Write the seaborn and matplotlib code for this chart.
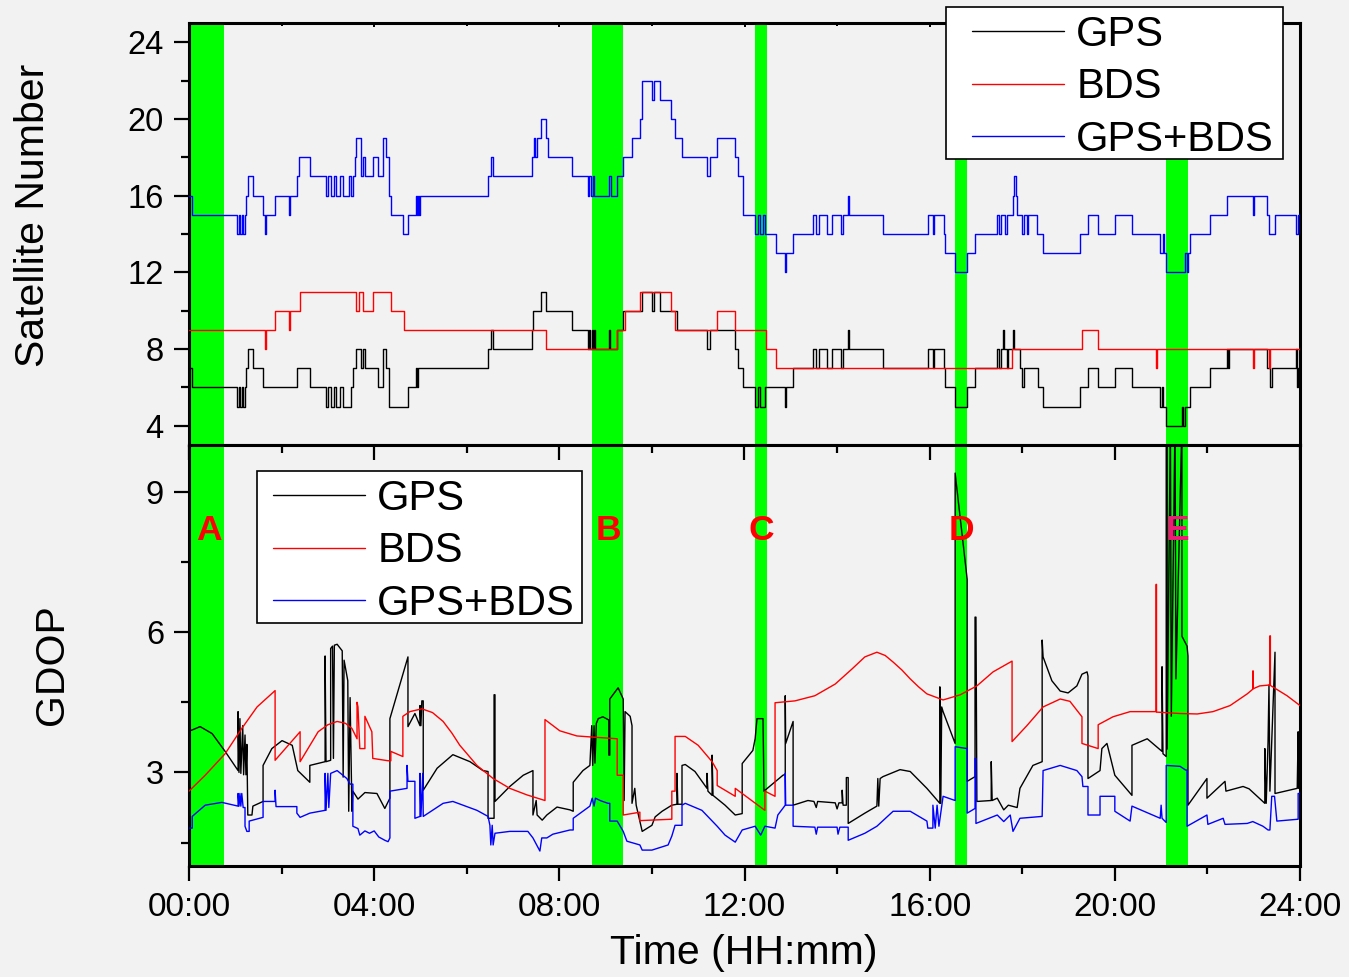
import matplotlib
matplotlib.use("Agg")
import matplotlib.pyplot as plt
from matplotlib.patches import Rectangle
from matplotlib.ticker import MultipleLocator, FuncFormatter
import pandas as pd
import seaborn as sns

# ---------------- satellite counts (hour of change, count) ----------------
gps_sat_t = [0.00, 0.07, 1.04, 1.08, 1.10, 1.14, 1.17, 1.21, 1.23, 1.27, 1.38, 1.60, 2.33, 2.61, 2.96, 3.00,
             3.06, 3.13, 3.17, 3.26, 3.33, 3.50, 3.54, 3.61, 3.71, 3.76, 3.80, 4.08, 4.19, 4.26, 4.32, 4.73,
             4.90, 4.92, 4.95, 6.46, 6.52, 6.57, 7.41, 7.43, 7.60, 7.71, 8.27, 8.62, 8.64, 8.66, 8.70, 8.72,
             8.75, 8.77, 9.07, 9.10, 9.25, 9.38, 9.79, 10.00, 10.05, 10.17, 10.54, 11.19, 11.25, 11.80, 11.86,
             11.97, 12.23, 12.30, 12.33, 12.45, 12.88, 12.90, 13.05, 13.48, 13.54, 13.60, 13.78, 13.90, 14.08,
             14.13, 14.24, 14.26, 14.99, 15.96, 16.08, 16.10, 16.30, 16.33, 16.55, 16.81, 16.98, 17.46, 17.50,
             17.55, 17.58, 17.60, 17.66, 17.70, 17.80, 17.83, 17.95, 18.00, 18.03, 18.34, 18.45, 19.25, 19.42,
             19.64, 20.00, 20.37, 20.98, 21.02, 21.04, 21.11, 21.45, 21.48, 21.52, 21.62, 22.06, 22.42, 22.45,
             22.47, 23.28, 23.36, 23.40, 23.92, 23.94, 23.96, 24.00]
gps_sat_n = [7, 6, 5, 6, 5, 6, 5, 6, 7, 8, 7, 6, 7, 6, 5, 6,
             5, 6, 5, 6, 5, 6, 7, 8, 7, 8, 7, 6, 8, 7, 5, 6,
             7, 6, 7, 8, 9, 8, 9, 10, 11, 10, 9, 8, 9, 8, 9, 8,
             9, 8, 9, 8, 9, 10, 11, 10, 11, 10, 9, 8, 9, 8, 7,
             6, 5, 6, 5, 6, 5, 6, 7, 8, 7, 8, 7, 8, 7,
             8, 9, 8, 7, 8, 7, 8, 7, 6, 5, 6, 7, 8, 7,
             8, 9, 8, 7, 8, 9, 8, 7, 6, 7, 6, 5, 6, 7,
             6, 7, 6, 5, 6, 5, 4, 5, 4, 5, 6, 7, 8, 7,
             8, 7, 6, 7, 8, 6, 7, 7]

bds_sat_t = [0.00, 1.64, 1.66, 1.86, 2.16, 2.18, 2.40, 3.61, 3.67, 3.76, 3.97, 4.36, 4.64, 7.71, 9.25, 9.42,
             9.74, 10.41, 10.50, 11.41, 11.80, 12.46, 12.68, 17.78, 19.29, 19.64, 20.89, 20.91, 22.98, 23.00,
             23.33, 23.35, 24.00]
bds_sat_n = [9, 8, 9, 10, 9, 10, 11, 10, 11, 10, 11, 10, 9, 8, 9, 10,
             11, 10, 9, 10, 9, 8, 7, 8, 9, 8, 7, 8, 7, 8,
             7, 8, 8]

all_sat_t = [0.00, 0.07, 1.04, 1.08, 1.10, 1.14, 1.17, 1.21, 1.23, 1.27, 1.38, 1.60, 1.64, 1.66, 1.86, 2.16,
             2.18, 2.33, 2.37, 2.61, 2.96, 3.00, 3.06, 3.13, 3.17, 3.26, 3.33, 3.45, 3.50, 3.54, 3.58, 3.61,
             3.71, 3.76, 3.80, 3.97, 4.08, 4.19, 4.26, 4.32, 4.36, 4.62, 4.73, 4.90, 4.92, 4.95, 4.97, 5.00,
             6.46, 6.52, 6.57, 7.41, 7.45, 7.47, 7.52, 7.60, 7.71, 7.76, 8.27, 8.62, 8.65, 8.68, 8.72, 8.75,
             9.07, 9.11, 9.25, 9.38, 9.57, 9.74, 9.79, 10.00, 10.05, 10.17, 10.41, 10.50, 10.65, 11.19, 11.25,
             11.41, 11.80, 11.86, 11.97, 12.23, 12.30, 12.33, 12.40, 12.45, 12.68, 12.88, 12.90, 13.05, 13.48,
             13.54, 13.60, 13.78, 13.90, 14.08, 14.13, 14.24, 14.26, 14.99, 15.96, 16.08, 16.10, 16.30, 16.33,
             16.55, 16.81, 16.98, 17.46, 17.50, 17.55, 17.62, 17.66, 17.80, 17.83, 17.86, 17.89, 17.95, 18.00,
             18.03, 18.10, 18.13, 18.32, 18.45, 19.25, 19.42, 19.64, 20.00, 20.37, 20.98, 21.04, 21.06, 21.11,
             21.52, 21.55, 21.58, 21.62, 22.06, 22.42, 22.98, 23.00, 23.28, 23.33, 23.45, 23.92, 23.96, 24.00]
all_sat_n = [16, 15, 14, 15, 14, 15, 14, 15, 16, 17, 16, 15, 14, 15, 16, 15,
             16, 17, 18, 17, 16, 17, 16, 17, 16, 17, 16, 17, 16, 17, 18, 19,
             17, 18, 17, 18, 17, 19, 18, 16, 15, 14, 15, 16, 15, 16, 15, 16,
             17, 18, 17, 18, 19, 18, 19, 20, 19, 18, 17, 16, 17, 16, 17, 16,
             17, 16, 17, 18, 19, 20, 22, 21, 22, 21, 20, 19, 18, 17, 18,
             19, 18, 17, 15, 14, 15, 14, 15, 14, 13, 12, 13, 14, 15,
             14, 15, 14, 15, 14, 15, 16, 15, 14, 15, 14, 15, 14, 13,
             12, 13, 14, 15, 14, 15, 14, 15, 16, 17, 16, 15, 15, 14,
             15, 14, 15, 14, 13, 14, 15, 14, 15, 14, 13, 14, 13, 12,
             13, 12, 13, 14, 15, 16, 15, 16, 15, 14, 15, 14, 15, 15]

# ---------------- GDOP (hour, value) ----------------
gps_gdop_t = [0.05, 0.24, 0.50, 0.78, 1.06, 1.06, 1.08, 1.10, 1.12, 1.16, 1.18, 1.21, 1.23, 1.25, 1.27, 1.36,
              1.38, 1.60, 1.60, 1.79, 2.01, 2.23, 2.35, 2.61, 2.61, 2.94, 2.94, 2.96, 3.06, 3.06, 3.10, 3.12,
              3.14, 3.20, 3.31, 3.33, 3.35, 3.43, 3.45, 3.48, 3.52, 3.54, 3.65, 3.80, 4.06, 4.23, 4.34, 4.34,
              4.73, 4.73, 4.88, 4.99, 4.99, 5.01, 5.03, 5.06, 5.06, 5.36, 5.70, 6.07, 6.35, 6.46, 6.46, 6.59,
              6.59, 6.61, 6.61, 6.93, 7.22, 7.43, 7.43, 7.50, 7.52, 7.63, 7.73, 7.95, 8.23, 8.30, 8.30, 8.51,
              8.66, 8.70, 8.72, 8.75, 8.77, 8.80, 8.84, 8.94, 9.07, 9.07, 9.09, 9.09, 9.27, 9.38, 9.40, 9.42,
              9.53, 9.57, 9.57, 9.63, 9.66, 9.79, 10.00, 10.07, 10.22, 10.43, 10.54, 10.54, 10.56, 10.65,
              10.65, 10.72, 10.93, 11.19, 11.19, 11.21, 11.30, 11.30, 11.32, 11.58, 11.80, 11.95, 11.95, 12.18,
              12.23, 12.27, 12.40, 12.42, 12.83, 12.88, 12.88, 12.89, 13.05, 13.05, 13.37, 13.50, 13.55, 13.58,
              13.96, 14.00, 14.04, 14.11, 14.11, 14.13, 14.20, 14.20, 14.24, 14.24, 14.60, 14.86, 14.88, 14.90,
              14.93, 14.99, 15.36, 15.58, 15.94, 16.22, 16.22, 16.24, 16.26, 16.29, 16.55, 16.55, 16.81, 16.81,
              16.98, 16.98, 17.00, 17.02, 17.33, 17.33, 17.35, 17.46, 17.60, 17.70, 17.89, 17.95, 18.23, 18.43,
              18.43, 18.45, 18.64, 18.82, 18.99, 19.18, 19.29, 19.40, 19.42, 19.42, 19.68, 19.72, 19.83, 20.00,
              20.37, 20.37, 20.70, 21.02, 21.02, 21.04, 21.11, 21.11, 21.13, 21.13, 21.20, 21.22, 21.30, 21.32,
              21.45, 21.45, 21.56, 21.58, 21.58, 21.99, 21.99, 22.38, 22.40, 22.77, 22.90, 23.24, 23.24, 23.27,
              23.31, 23.33, 23.35, 23.46, 23.46, 23.94, 23.96, 23.97, 24.00]
gps_gdop_v = [3.90, 3.98, 3.83, 3.45, 3.04, 4.30, 3.00, 4.15, 2.98, 4.00, 2.95, 3.80, 2.95, 3.60, 2.09, 2.09,
              2.28, 2.38, 3.15, 3.51, 3.68, 3.58, 3.04, 2.79, 3.15, 3.23, 5.49, 3.23, 3.26, 5.65, 5.70, 3.30,
              5.72, 5.74, 5.60, 2.90, 5.40, 4.96, 2.17, 4.60, 2.17, 2.60, 2.43, 2.57, 2.55, 2.23, 2.45, 4.15,
              5.47, 3.98, 4.26, 4.00, 4.43, 4.00, 4.53, 4.53, 2.62, 3.09, 3.38, 3.23, 3.04, 3.02, 2.02, 2.02,
              4.66, 4.66, 2.38, 2.70, 2.94, 3.04, 2.09, 2.40, 2.09, 1.98, 2.09, 2.26, 2.20, 2.17, 2.79, 3.04,
              3.15, 4.00, 3.15, 4.00, 3.20, 4.05, 4.15, 4.19, 4.12, 3.37, 3.37, 4.57, 4.81, 4.57, 2.40, 4.30,
              4.20, 4.00, 2.34, 2.66, 2.30, 1.74, 1.87, 2.05, 2.17, 2.30, 2.32, 2.98, 2.32, 2.32,
              3.15, 3.17, 3.02, 2.66, 2.98, 2.60, 2.51, 3.37, 2.51, 2.30, 2.09, 2.12, 3.19, 3.47,
              3.72, 4.15, 4.15, 2.60, 2.94, 2.96, 4.64, 3.62, 4.09, 2.30, 2.40, 2.38, 2.25, 2.38,
              2.35, 2.22, 2.35, 2.35, 2.62, 2.30, 2.30, 2.89, 2.89, 1.91, 2.13, 2.28, 2.87, 2.28,
              2.87, 2.91, 3.06, 3.02, 2.66, 2.34, 4.83, 2.34, 4.40, 4.30, 3.62, 9.40, 7.13, 2.81,
              2.91, 6.32, 6.32, 2.38, 2.40, 3.23, 2.40, 2.45, 2.20, 2.30, 2.25, 2.66, 3.15, 3.23,
              5.83, 5.47, 4.96, 4.74, 4.70, 4.85, 5.10, 5.15, 5.06, 2.87, 3.04, 3.51, 3.62, 2.94,
              2.51, 3.58, 3.72, 3.45, 5.26, 3.40, 3.34, 10.50, 10.50, 3.50, 10.50, 4.20, 10.50, 5.00,
              10.50, 5.91, 5.70, 5.49, 2.30, 2.87, 2.45, 2.81, 2.60, 2.70, 2.65, 2.34, 3.51, 2.34,
              3.66, 4.87, 2.60, 5.57, 2.55, 2.66, 3.87, 2.66, 2.66]

bds_gdop_t = [0.00, 0.35, 0.78, 1.14, 1.47, 1.86, 1.86, 2.40, 2.40, 2.79, 3.00, 3.20, 3.38, 3.52, 3.63, 3.63,
              3.65, 3.69, 3.80, 3.80, 3.95, 3.97, 4.30, 4.36, 4.36, 4.62, 4.62, 4.77, 5.03, 5.26, 5.49, 5.68,
              5.85, 6.04, 6.22, 6.57, 6.93, 7.30, 7.69, 7.69, 8.01, 8.38, 8.66, 9.25, 9.25, 9.38, 9.38, 9.74,
              9.74, 10.43, 10.43, 10.50, 10.50, 10.72, 11.00, 11.30, 11.41, 11.41, 11.80, 11.80, 12.44, 12.44,
              12.66, 12.66, 13.09, 13.52, 13.96, 14.32, 14.60, 14.86, 15.04, 15.21, 15.40, 15.58, 15.76, 15.94,
              16.29, 16.66, 17.02, 17.37, 17.78, 17.78, 18.10, 18.45, 18.82, 19.03, 19.29, 19.29, 19.64, 19.64,
              19.96, 20.33, 20.89, 20.89, 20.90, 20.90, 21.41, 21.78, 22.12, 22.49, 22.86, 22.98, 22.98, 22.99,
              22.99, 23.13, 23.35, 23.35, 23.36, 23.36, 23.72, 24.00]
bds_gdop_v = [2.60, 2.94, 3.40, 3.94, 4.40, 4.75, 3.26, 3.87, 3.23, 3.87, 4.02, 4.09, 4.05, 3.94, 3.72, 4.50,
              4.40, 3.51, 3.51, 4.20, 3.87, 3.30, 3.25, 3.25, 3.45, 3.34, 4.20, 4.30, 4.36, 4.28, 4.09, 3.84,
              3.58, 3.36, 3.15, 2.87, 2.66, 2.52, 2.40, 4.13, 3.89, 3.78, 3.76, 3.72, 2.94, 2.94, 2.09, 2.15,
              1.97, 2.00, 2.60, 2.60, 3.77, 3.77, 3.58, 3.23, 3.04, 2.72, 2.49, 2.66, 2.19, 2.60,
              2.49, 4.49, 4.53, 4.64, 4.89, 5.21, 5.47, 5.57, 5.50, 5.36, 5.19, 5.00, 4.83, 4.68,
              4.55, 4.66, 4.85, 5.15, 5.38, 3.66, 4.00, 4.40, 4.57, 4.52, 4.19, 3.62, 3.51, 4.02,
              4.19, 4.30, 4.30, 7.02, 7.02, 4.29, 4.26, 4.25, 4.30, 4.43, 4.68, 4.78, 5.17, 5.17,
              4.79, 4.85, 4.87, 5.92, 5.92, 4.86, 4.64, 4.43]

all_gdop_t = [0.00, 0.07, 0.07, 0.35, 0.71, 1.06, 1.06, 1.08, 1.10, 1.12, 1.14, 1.17, 1.21, 1.21, 1.25, 1.30,
              1.30, 1.60, 1.60, 1.86, 1.86, 1.88, 2.33, 2.33, 2.40, 2.61, 2.94, 2.94, 2.96, 3.00, 3.02, 3.06,
              3.20, 3.41, 3.48, 3.54, 3.54, 3.65, 3.69, 3.80, 3.90, 4.00, 4.10, 4.23, 4.30, 4.34, 4.34, 4.71,
              4.71, 4.73, 4.88, 4.88, 4.99, 4.99, 5.01, 5.05, 5.06, 5.49, 5.70, 6.22, 6.46, 6.50, 6.52, 6.55,
              6.57, 6.61, 6.93, 7.32, 7.43, 7.58, 7.62, 7.73, 7.86, 8.23, 8.30, 8.30, 8.66, 8.71, 8.75, 8.78,
              8.88, 9.05, 9.09, 9.09, 9.25, 9.38, 9.46, 9.74, 9.79, 10.00, 10.35, 10.43, 10.50, 10.65, 10.65,
              10.72, 11.08, 11.41, 11.58, 11.80, 11.95, 12.23, 12.35, 12.44, 12.66, 12.72, 12.88, 12.88, 12.89,
              13.05, 13.05, 13.52, 13.55, 13.58, 14.00, 14.02, 14.06, 14.24, 14.24, 14.60, 14.86, 15.21, 15.58,
              15.94, 15.96, 16.07, 16.07, 16.12, 16.16, 16.20, 16.29, 16.55, 16.55, 16.81, 16.81, 16.98, 16.98,
              17.00, 17.00, 17.46, 17.60, 17.74, 17.80, 17.95, 18.43, 18.45, 18.82, 19.18, 19.29, 19.31, 19.42,
              19.42, 19.68, 19.68, 20.00, 20.00, 20.33, 20.37, 20.98, 21.00, 21.02, 21.11, 21.11, 21.41, 21.53,
              21.56, 21.56, 21.99, 22.01, 22.34, 22.38, 22.86, 22.98, 23.20, 23.31, 23.35, 23.39, 23.45, 23.50,
              23.96, 23.96, 24.00]
all_gdop_v = [1.81, 1.81, 2.06, 2.30, 2.36, 2.28, 2.55, 2.28, 2.55, 2.28, 2.55, 2.25, 2.25, 1.85, 1.74, 1.74,
              1.96, 2.04, 2.38, 2.38, 2.62, 2.27, 2.27, 2.13, 2.04, 2.13, 2.19, 2.98, 2.19, 2.98, 2.25, 2.98,
              3.04, 2.87, 2.75, 2.75, 1.85, 1.80, 1.66, 1.75, 1.70, 1.75, 1.62, 1.55, 1.52, 1.60, 2.60, 2.66,
              3.15, 2.81, 2.81, 2.02, 2.06, 2.98, 2.06, 2.98, 2.06, 2.34, 2.38, 2.19, 2.06, 1.87, 1.45, 1.87,
              1.45, 1.70, 1.74, 1.74, 1.60, 1.32, 1.60, 1.60, 1.68, 1.77, 1.77, 2.02, 2.28, 2.45, 2.28, 2.45,
              2.40, 2.34, 2.34, 1.96, 1.96, 1.74, 1.53, 1.45, 1.34, 1.34, 1.45, 1.64, 1.87, 1.87, 2.30,
              2.34, 2.19, 1.85, 1.66, 1.51, 1.77, 1.85, 1.66, 1.85, 1.81, 2.09, 2.30, 2.98, 2.30,
              2.30, 1.85, 1.83, 1.68, 1.83, 1.83, 1.68, 1.83, 1.83, 1.55, 1.70, 1.85, 2.17, 2.17,
              1.96, 1.81, 1.81, 2.30, 1.81, 2.30, 1.85, 2.49, 2.40, 3.55, 3.51, 2.13, 2.23, 3.30,
              3.30, 1.91, 2.09, 1.95, 2.09, 1.74, 2.02, 2.06, 3.04, 3.15, 3.04, 2.91, 2.70, 2.70,
              2.09, 2.09, 2.49, 2.49, 2.17, 1.96, 2.28, 2.02, 2.30, 2.02, 1.93, 3.15, 3.13, 3.05,
              3.05, 1.85, 2.09, 1.89, 2.02, 1.89, 1.91, 1.95, 1.85, 1.77, 1.77, 2.49, 2.49, 1.96,
              2.00, 2.55, 2.55]

# ---------------- event windows with poor geometry ----------------
event_names = ["A", "B", "C", "D", "E"]
event_start = [0.04, 8.70, 12.22, 16.54, 21.10]
event_end = [0.76, 9.37, 12.48, 16.80, 21.58]
event_colors = ["#ff0000", "#ff0000", "#ff0000", "#ff0000", "#ee1a78"]

series_names = ["GPS", "BDS", "GPS+BDS"]
series_colors = ["#000000", "#ff0000", "#0000ff"]

# ---------------- style ----------------
sns.set_theme(style="ticks")
bg = "#f2f2f2"
plt.rcParams.update({
    "font.family": ["Liberation Sans", "DejaVu Sans"],
    "axes.linewidth": 2.2,
    "axes.edgecolor": "black",
    "text.color": "black",
    "axes.labelcolor": "black",
    "xtick.color": "black",
    "ytick.color": "black",
    "xtick.labelcolor": "black",
    "ytick.labelcolor": "black",
})

W, H = 1349, 977
fig = plt.figure(figsize=(W / 100, H / 100), dpi=100, facecolor=bg)
left, width = 189 / W, (1300 - 189) / W
ax1 = fig.add_axes([left, 1 - 445 / H, width, (445 - 23) / H])
ax2 = fig.add_axes([left, 1 - 866 / H, width, (866 - 445) / H])

for ax in (ax1, ax2):
    ax.set_facecolor(bg)
    for s0, s1 in zip(event_start, event_end):
        ax.axvspan(s0, s1, color="#00ff00", lw=0, zorder=0)

# satellite numbers (step lines)
sat_frames = [
    pd.DataFrame({"t": gps_sat_t, "n": gps_sat_n}),
    pd.DataFrame({"t": bds_sat_t, "n": bds_sat_n}),
    pd.DataFrame({"t": all_sat_t, "n": all_sat_n}),
]
for df, name, col in zip(sat_frames, series_names, series_colors):
    sns.lineplot(data=df, x="t", y="n", ax=ax1, color=col, lw=1.0, estimator=None,
                 sort=False, drawstyle="steps-post", label=name, zorder=3)

# GDOP curves
gdop_frames = [
    pd.DataFrame({"t": gps_gdop_t, "g": gps_gdop_v}),
    pd.DataFrame({"t": bds_gdop_t, "g": bds_gdop_v}),
    pd.DataFrame({"t": all_gdop_t, "g": all_gdop_v}),
]
for df, name, col in zip(gdop_frames, series_names, series_colors):
    sns.lineplot(data=df, x="t", y="g", ax=ax2, color=col, lw=1.0, estimator=None,
                 sort=False, label=name, zorder=3)

# event letters
for name, s0, s1, col in zip(event_names, event_start, event_end, event_colors):
    ax2.text((s0 + s1) / 2 + 0.02, 8.17, name, color=col, fontsize=25.5, fontweight="bold",
             ha="center", va="center", zorder=5)

# axes limits and ticks
ax1.set_xlim(0, 24)
ax2.set_xlim(0, 24)
ax1.set_ylim(3, 25)
ax2.set_ylim(1, 10)

ax1.yaxis.set_major_locator(MultipleLocator(4))
ax1.yaxis.set_minor_locator(MultipleLocator(2))
ax2.yaxis.set_major_locator(MultipleLocator(3))
ax2.yaxis.set_minor_locator(MultipleLocator(1.5))
for ax in (ax1, ax2):
    ax.xaxis.set_major_locator(MultipleLocator(4))
    ax.xaxis.set_minor_locator(MultipleLocator(2))
    ax.set_xlabel("")
    ax.set_ylabel("")
    ax.tick_params(axis="y", which="major", direction="out", length=11, width=1.6,
                   labelsize=23.5, pad=7, right=False)
    ax.tick_params(axis="y", which="minor", direction="out", length=6, width=1.6, right=False)

ax2.xaxis.set_major_formatter(FuncFormatter(lambda v, p: f"{int(round(v)):02d}:00"))
ax2.tick_params(axis="x", which="major", direction="out", length=11, width=1.6,
                labelsize=24, pad=8, top=False)
ax2.tick_params(axis="x", which="minor", direction="out", length=6, width=1.6, top=False)

# inward ticks along the border shared by the two panels
top2 = ax2.twiny()
top2.set_xlim(0, 24)
top2.xaxis.set_major_locator(MultipleLocator(4))
top2.xaxis.set_minor_locator(MultipleLocator(2))
top2.tick_params(axis="x", which="major", direction="in", length=11, width=1.6, labeltop=False)
top2.tick_params(axis="x", which="minor", direction="in", length=6, width=1.6)
for sp in top2.spines.values():
    sp.set_visible(False)

ax1.tick_params(axis="x", which="both", bottom=False, labelbottom=False, top=True,
                direction="in", width=1.4)
ax1.tick_params(axis="x", which="major", length=3)
ax1.tick_params(axis="x", which="minor", length=2)

# axis titles
fig.text(33 / W, 1 - 215 / H, "Satellite Number", rotation=90, ha="center", va="center",
         fontsize=29.5)
fig.text(52 / W, 1 - 665 / H, "GDOP", rotation=90, ha="center", va="center", fontsize=29.5)
fig.text(744 / W, 1 - 953 / H, "Time (HH:mm)", ha="center", va="center", fontsize=29.5)


# legends: white framed box with the entries placed inside it
def boxed_legend(ax, box_px, entry_px):
    x0, y0, x1, y1 = box_px
    ax.add_patch(Rectangle((x0 / W, 1 - y1 / H), (x1 - x0) / W, (y1 - y0) / H,
                           transform=fig.transFigure, facecolor="white", edgecolor="black",
                           lw=1.2, clip_on=False, zorder=9))
    leg = ax.legend(loc="upper left", bbox_to_anchor=(entry_px[0] / W, 1 - entry_px[1] / H),
                    bbox_transform=fig.transFigure, fontsize=30, handlelength=2.2,
                    handletextpad=0.3, labelspacing=0.3, borderpad=0, borderaxespad=0,
                    frameon=False)
    leg.set_zorder(10)
    for h in leg.get_lines():
        h.set_linewidth(1.0)
    return leg


boxed_legend(ax1, (946, 7, 1283, 159), (972, 15))
boxed_legend(ax2, (257, 471, 582, 623), (273, 479))

fig.savefig("out.png", dpi=100, facecolor=bg)
